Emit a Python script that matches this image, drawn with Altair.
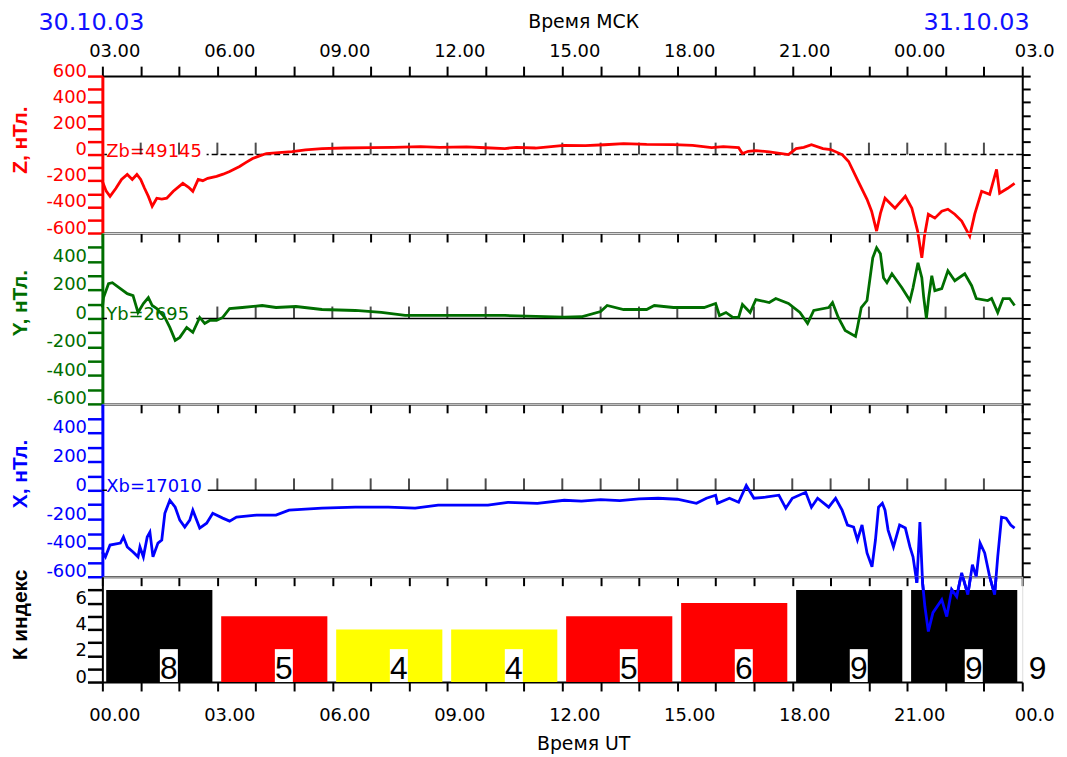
import json
import altair as alt
import pandas as pd

# ---------------- data ----------------
hours = list(range(0, 25))
msk_labels = ["03.00", "06.00", "09.00", "12.00", "15.00", "18.00", "21.00", "00.00", "03.0"]
ut_labels = ["00.00", "03.00", "06.00", "09.00", "12.00", "15.00", "18.00", "21.00", "00.0"]
dates = ["30.10.03", "31.10.03"]

z_hour = [0.0, 0.1, 0.2, 0.35, 0.5, 0.65, 0.78, 0.9, 1.0, 1.1, 1.2, 1.3, 1.42, 1.55, 1.68, 1.85,
          2.1, 2.25, 2.36, 2.5, 2.62, 2.75, 2.98, 3.15, 3.32, 3.58, 3.75, 3.92, 4.1, 4.28, 4.6,
          4.95, 5.3, 5.73, 6.3, 7.0, 7.6, 8.3, 8.8, 9.5, 10.0, 10.5, 10.8, 11.3, 12.05, 12.6,
          13.1, 13.6, 14.2, 14.9, 15.4, 15.9, 16.2, 16.6, 16.7, 16.85, 17.05, 17.4, 17.9, 18.1,
          18.3, 18.5, 18.8, 19.0, 19.3, 19.47, 19.72, 19.95, 20.07, 20.2, 20.3, 20.42, 20.68,
          20.95, 21.12, 21.27, 21.38, 21.45, 21.55, 21.72, 21.9, 22.06, 22.24, 22.42, 22.63,
          22.76, 22.94, 23.15, 23.33, 23.41, 23.62, 23.8]
z_val = [-205, -280, -320, -260, -190, -152, -190, -152, -190, -258, -320, -395, -334, -340,
         -334, -281, -220, -250, -281, -190, -200, -182, -167, -150, -129, -91, -60, -30, -10,
         8, 15, 23, 35, 46, 50, 53, 55, 61, 55, 58, 52, 46, 55, 50, 70, 68, 75, 84, 78, 76, 70,
         53, 61, 53, 8, 25, 30, 20, 0, 46, 55, 76, 46, 38, 0, -53, -205, -342, -433, -585,
         -450, -334, -410, -319, -410, -585, -790, -620, -456, -486, -433, -418, -456, -509,
         -623, -456, -281, -304, -114, -296, -258, -220]

y_hour = [0.0, 0.03, 0.16, 0.26, 0.47, 0.65, 0.8, 0.93, 1.07, 1.2, 1.3, 1.42, 1.63, 1.76, 1.9,
          2.02, 2.2, 2.36, 2.54, 2.67, 2.8, 2.98, 3.14, 3.32, 3.65, 4.17, 4.53, 5.05, 5.73, 6.6,
          7.28, 7.9, 9.2, 10.5, 12.05, 12.5, 13.0, 13.17, 13.6, 14.2, 14.4, 14.9, 15.7, 16.0,
          16.1, 16.27, 16.45, 16.6, 16.7, 16.9, 17.05, 17.4, 17.57, 17.9, 18.2, 18.4, 18.56,
          18.95, 19.05, 19.2, 19.38, 19.65, 19.7, 19.8, 19.95, 20.1, 20.2, 20.3, 20.38, 20.47,
          20.6, 20.86, 21.07, 21.15, 21.28, 21.38, 21.43, 21.5, 21.56, 21.64, 21.72, 21.9,
          22.06, 22.24, 22.5, 22.68, 22.8, 23.1, 23.2, 23.36, 23.5, 23.67, 23.8]
y_val = [77, 147, 244, 251, 209, 174, 160, 42, 105, 147, 91, 70, 7, -63, -154, -133, -63, -98,
         7, -35, -14, -14, 7, 70, 77, 91, 77, 84, 63, 56, 42, 21, 21, 21, 10, 12, 49, 91, 63,
         63, 91, 77, 77, 105, 21, 42, 7, 7, 98, 42, 133, 112, 140, 105, 42, -35, 56, 77, 112,
         7, -84, -126, -63, 77, 126, 426, 496, 454, 286, 251, 314, 216, 126, 216, 391, 286,
         147, 0, 147, 300, 195, 209, 335, 265, 314, 230, 140, 126, 140, 42, 140, 140, 91]

x_hour = [0.0, 0.08, 0.2, 0.47, 0.55, 0.65, 0.8, 0.93, 0.98, 1.07, 1.17, 1.24, 1.32, 1.45, 1.55,
          1.63, 1.76, 1.9, 2.02, 2.15, 2.28, 2.36, 2.54, 2.72, 2.88, 3.14, 3.32, 3.5, 4.02,
          4.53, 4.87, 5.73, 6.6, 7.46, 8.16, 8.76, 10.06, 10.58, 11.35, 12.05, 12.5, 13.0,
          13.5, 14.0, 14.5, 15.0, 15.5, 15.76, 16.0, 16.05, 16.36, 16.6, 16.8, 17.0, 17.3,
          17.65, 17.83, 18.0, 18.35, 18.5, 18.66, 18.95, 19.13, 19.3, 19.44, 19.6, 19.7,
          19.82, 19.95, 20.08, 20.17, 20.25, 20.35, 20.42, 20.5, 20.64, 20.8, 20.95, 21.07,
          21.15, 21.25, 21.33, 21.4, 21.46, 21.55, 21.67, 21.9, 22.03, 22.16, 22.29, 22.42,
          22.58, 22.7, 22.8, 22.9, 23.02, 23.15, 23.28, 23.36, 23.46, 23.58, 23.7, 23.8]
x_val = [-428, -462, -380, -366, -324, -393, -428, -462, -393, -462, -324, -290, -462, -366,
         -345, -159, -69, -117, -207, -255, -207, -138, -262, -228, -159, -193, -214, -186,
         -172, -172, -138, -124, -117, -117, -124, -103, -103, -83, -90, -69, -75, -65, -72,
         -60, -55, -62, -90, -55, -34, -90, -55, -83, 34, -55, -48, -34, -124, -55, -14, -117,
         -55, -117, -55, -138, -241, -255, -345, -241, -435, -531, -345, -117, -90, -138,
         -276, -393, -241, -262, -393, -462, -642, -221, -642, -807, -980, -849, -759, -876,
         -690, -738, -573, -724, -517, -600, -366, -435, -600, -724, -462, -186, -193, -241,
         -262]

k_start = [0, 3, 6, 9, 12, 15, 18, 21]
k_bar = [7, 5, 4, 4, 5, 6, 7, 7]
k_index = [8, 5, 4, 4, 5, 6, 9, 9]
k_next = 9

# ---------------- style ----------------
RED = "#ff0000"
GREEN = "#006e00"
BLUE = "#0000ff"
LBL = "DejaVu Sans"
TTL = "Liberation Sans"
W = 926
HZ, HY, HX, HK = 158, 172, 174, 106

x_scale = alt.Scale(domain=[0, 24], nice=False, zero=False)
v_scale = alt.Scale(domain=[-600, 600], nice=False, zero=False)

top_expr = "datum.value % 3 == 0 ? " + json.dumps(msk_labels) + "[datum.value / 3] : ''"
bot_expr = "datum.value % 3 == 0 ? " + json.dumps(ut_labels) + "[datum.value / 3] : ''"


def hour_axis(orient, labels_expr=None, title=""):
    kw = dict(orient=orient, values=hours, tickSize=10 if orient == "top" else 9, tickWidth=2,
              tickColor="black", domainColor="black", domainWidth=2, grid=False, title=title)
    if labels_expr:
        kw.update(labelExpr=labels_expr, labelOffset=12, labelFont=LBL, labelFontSize=18,
                  labelColor="black", labelFlush=False, labelOverlap=False,
                  labelPadding=6 if orient == "top" else 16,
                  titleFont=LBL, titleFontSize=19, titleFontWeight="normal", titleColor="black",
                  titleX=484, titleAlign="center", titleBaseline="middle",
                  titleY=-55 if orient == "top" else 62)
    else:
        kw.update(labels=False)
    return alt.Axis(**kw)


def left_axis(color, title, title_y, values, label_step):
    return alt.Axis(orient="left", values=values,
                    labelExpr="datum.value % " + str(label_step) + " == 0 ? '' + datum.value : ''",
                    domainColor=color, domainWidth=3, tickColor=color, tickWidth=2.5, tickSize=15,
                    labelColor=color, labelFont=LBL, labelFontSize=18, labelBaseline="alphabetic",
                    labelPadding=1, labelFlush=False, labelOverlap=False, grid=False,
                    title=title, titleColor=color, titleFont=TTL, titleFontWeight="bold",
                    titleFontSize=21, titleAngle=270, titleX=-82, titleY=title_y,
                    titleAlign="center", titleBaseline="middle")


def right_axis(values):
    return alt.Axis(orient="right", values=values, labels=False, tickColor="black", tickWidth=2,
                    tickSize=8, domainColor="black", domainWidth=2, grid=False, title="")


def field_panel(h_list, v_list, color, title, base_text, height, title_y, dashed, top,
                tick_hours, text_span):
    df = pd.DataFrame({"h": h_list, "v": v_list})
    zero_df = pd.DataFrame({"h": tick_hours, "zero": [0] * len(tick_hours)})
    one = pd.DataFrame({"h": [0.0], "zero": [0], "txt": [base_text],
                        "x1": [0.12], "x2": [text_span]})
    upp = 1200.0 / height
    one["ya"] = 8 * upp
    one["yb"] = -8 * upp
    vals = list(range(-600, 601 if top else 600, 100))

    main_x = hour_axis("top", top_expr, "Время МСК") if top else hour_axis("bottom")
    line = alt.Chart(df).mark_line(color=color, strokeWidth=2.8, clip=False).encode(
        x=alt.X("h:Q", scale=x_scale, axis=main_x),
        y=alt.Y("v:Q", scale=v_scale, axis=left_axis(color, title, title_y, vals, 200)),
    )
    rule_kw = dict(color="black", strokeWidth=1.5)
    if dashed:
        rule_kw["strokeDash"] = [6, 3]
    zero_rule = alt.Chart(one).mark_rule(**rule_kw).encode(
        y=alt.Y("zero:Q", scale=v_scale, axis=right_axis(vals))
    )
    box = alt.Chart(one).mark_rect(color="white").encode(
        x=alt.X("x1:Q", scale=x_scale, axis=None), x2="x2:Q",
        y=alt.Y("ya:Q", scale=v_scale, axis=None), y2="yb:Q",
    )
    text = alt.Chart(one).mark_text(align="left", baseline="middle", dx=4, dy=-3,
                                    font=LBL, fontSize=18, color=color).encode(
        x=alt.X("h:Q", scale=x_scale, axis=None),
        y=alt.Y("zero:Q", scale=v_scale, axis=None),
        text="txt:N",
    )
    bottom_axis = hour_axis("bottom") if top else None
    ticks = alt.Chart(zero_df).mark_tick(orient="vertical", size=12, thickness=2,
                                         color="black", yOffset=-6).encode(
        x=alt.X("h:Q", scale=x_scale, axis=bottom_axis),
        y=alt.Y("zero:Q", scale=v_scale, axis=None),
    )
    layers = [zero_rule, box, text, ticks] if top else [zero_rule, ticks, box, text]
    ch = alt.layer(*layers, line)
    return ch.resolve_axis(x="independent", y="independent").properties(width=W, height=height)


z_panel = field_panel(z_hour, z_val, RED, "Z, нТл.", "Zb=49145", HZ, 64, True, True,
                      list(range(1, 24)), 2.72)
y_panel = field_panel(y_hour, y_val, GREEN, "Y, нТл.", "Yb=2695", HY, 70, False, False,
                      list(range(3, 24)), 2.45)
x_panel = field_panel(x_hour, x_val, BLUE, "X, нТл.", "Xb=17010", HX, 70, False, False,
                      list(range(3, 24)), 2.75)

# dates above the top axis
date_df = pd.DataFrame({"d": dates, "px": [-11, 880]})
date_layer = alt.Chart(date_df).mark_text(font=LBL, fontSize=24, color="#1010ff",
                                          baseline="middle", align="center").encode(
    x=alt.X("px:Q", scale=alt.Scale(domain=[0, W], range=[0, W]), axis=None),
    y=alt.value(-53),
    text="d:N",
)
z_panel = alt.layer(z_panel, date_layer).resolve_scale(x="independent").resolve_axis(
    x="independent", y="independent").properties(width=W, height=HZ)

# K index panel
k_df = pd.DataFrame({"start": k_start, "bar": k_bar, "k": k_index})
k_df["x0"] = k_df["start"] + 0.1
k_df["x1"] = k_df["start"] + 2.87
k_df["bx0"] = k_df["start"] + 1.5
k_df["bx1"] = k_df["start"] + 1.97
k_df["tx"] = k_df["start"] + 1.735
k_df["zero"] = 0
k_df["box"] = 2.5
k_df["level"] = ["high" if v >= 7 else ("mid" if v >= 5 else "low") for v in k_index]

k_scale = alt.Scale(domain=[0, 8], nice=False, zero=False)
k_axis = alt.Axis(orient="left", values=list(range(0, 8)),
                  labelExpr="datum.value % 2 == 0 ? '' + datum.value : ''",
                  domainColor="black", domainWidth=2, tickColor="black", tickWidth=2.5,
                  tickSize=15, labelColor="black", labelFont=LBL, labelFontSize=18,
                  labelBaseline="alphabetic", labelPadding=1, labelFlush=False,
                  labelOverlap=False, grid=False, title="К индекс", titleColor="black",
                  titleFont=TTL, titleFontWeight="bold", titleFontSize=21, titleAngle=270,
                  titleX=-82, titleY=38, titleAlign="center", titleBaseline="middle")

axis_df = pd.DataFrame({"h": hours, "zero": [0] * len(hours)})
k_axis_layer = alt.Chart(axis_df).mark_point(opacity=0).encode(
    x=alt.X("h:Q", scale=x_scale, axis=hour_axis("bottom", bot_expr, "Время UT")),
    y=alt.Y("zero:Q", scale=k_scale, axis=k_axis),
)
bars = alt.Chart(k_df).mark_rect().encode(
    x=alt.X("x0:Q", scale=x_scale, axis=None),
    x2="x1:Q",
    y=alt.Y("zero:Q", scale=k_scale, axis=None),
    y2="bar:Q",
    color=alt.Color("level:N", scale=alt.Scale(domain=["low", "mid", "high"],
                                               range=["#ffff00", "#ff0000", "#000000"]),
                    legend=None),
)
boxes = alt.Chart(k_df).mark_rect(color="white").encode(
    x=alt.X("bx0:Q", scale=x_scale, axis=None), x2="bx1:Q",
    y=alt.Y("zero:Q", scale=k_scale, axis=None), y2="box:Q",
)
k_text = alt.Chart(k_df).mark_text(font=TTL, fontSize=32, color="black", baseline="alphabetic",
                                   align="center", dy=-3).encode(
    x=alt.X("tx:Q", scale=x_scale, axis=None),
    y=alt.Y("zero:Q", scale=k_scale, axis=None),
    text="k:N",
)
next_df = pd.DataFrame({"h": [24.4], "zero": [0], "k": [k_next]})
k_next_text = alt.Chart(next_df).mark_text(font=TTL, fontSize=32, color="black",
                                           baseline="alphabetic", align="center", dy=-3).encode(
    x=alt.X("h:Q", scale=x_scale, axis=None),
    y=alt.Y("zero:Q", scale=k_scale, axis=None),
    text="k:N",
)
# continuation of the X trace below its panel, drawn over the bars
x_low = -600 - HK * 1200.0 / HX
x_cont = alt.Chart(pd.DataFrame({"h": x_hour, "v": x_val})).mark_line(
    color=BLUE, strokeWidth=2.8, clip=True).encode(
    x=alt.X("h:Q", scale=x_scale, axis=None),
    y=alt.Y("v:Q", scale=alt.Scale(domain=[x_low, -600], nice=False, zero=False), axis=None),
)
k_panel = alt.layer(bars, boxes, k_text, k_next_text, x_cont, k_axis_layer).resolve_scale(
    y="independent").resolve_axis(x="independent", y="independent").properties(
    width=W, height=HK)

chart = alt.vconcat(z_panel, y_panel, x_panel, k_panel, spacing=0, bounds="flush").properties(
    padding={"left": 1, "top": 0, "right": 4, "bottom": 10}
).configure_view(stroke="transparent", strokeWidth=0).configure_axis(
    translate=0, domainCap="square").configure(background="white")

chart.save("out.html", embed_options={"renderer": "svg", "actions": False})
